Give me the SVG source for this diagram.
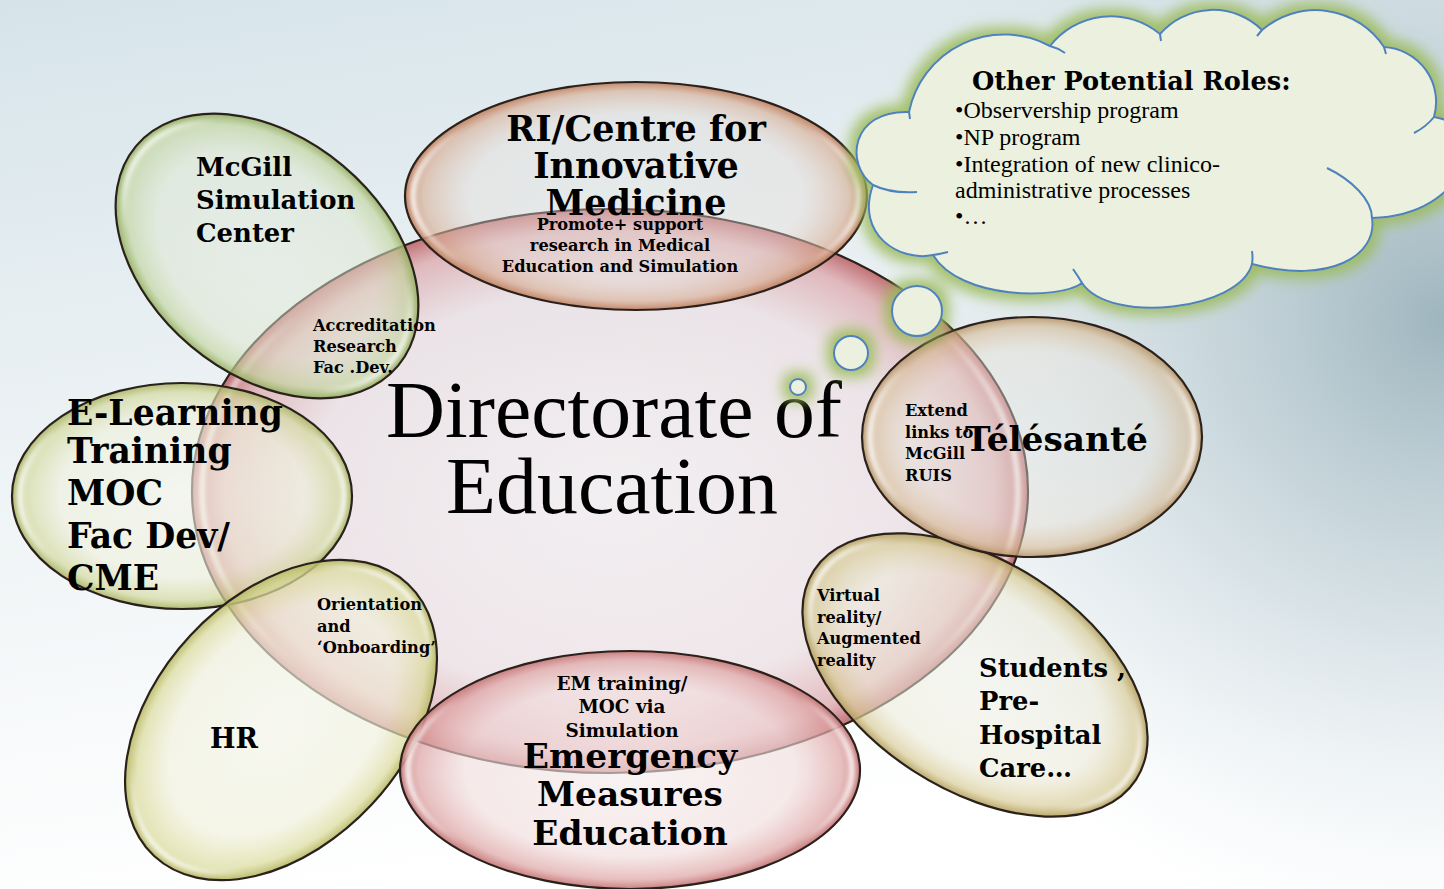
<svg xmlns="http://www.w3.org/2000/svg" width="1444" height="889" viewBox="0 0 1444 889">
<style>
.bub{stroke:#2a211c;stroke-width:2.2}
.shine{fill:none;stroke:url(#shine);stroke-width:5;filter:url(#soft)}
.lbl{font-family:"DejaVu Serif",Georgia,serif;font-weight:bold;fill:#000}
.sm{font-size:16.2px}
.cen{font-family:"Liberation Serif","Times New Roman",serif;fill:#000}
.cl{font-family:"Liberation Serif","Times New Roman",serif;fill:#000;font-size:24px}
.cloud{fill:#ebf1de;stroke:#4f81bd;stroke-width:2}
.tail{fill:none;stroke:#4f81bd;stroke-width:2}
</style>
<defs>
<linearGradient id="bg" x1="0" y1="0" x2="0.25" y2="1">
<stop offset="0" stop-color="#d6e4ea"/>
<stop offset="0.5" stop-color="#eef3f5"/>
<stop offset="1" stop-color="#ffffff"/>
</linearGradient>
<radialGradient id="bg2" cx="1444" cy="320" r="620" gradientUnits="userSpaceOnUse">
<stop offset="0" stop-color="#9ab2bb" stop-opacity="0.95"/>
<stop offset="0.45" stop-color="#b9cbd2" stop-opacity="0.6"/>
<stop offset="1" stop-color="#d7e4ea" stop-opacity="0"/>
</radialGradient>
<linearGradient id="shine" x1="0" y1="0" x2="1" y2="0">
<stop offset="0" stop-color="#fff" stop-opacity="0.9"/>
<stop offset="0.12" stop-color="#fff" stop-opacity="0"/>
<stop offset="0.88" stop-color="#fff" stop-opacity="0"/>
<stop offset="1" stop-color="#fff" stop-opacity="0.9"/>
</linearGradient>
<filter id="soft" x="-10%" y="-10%" width="120%" height="120%"><feGaussianBlur stdDeviation="2"/></filter>
<filter id="glow" x="-20%" y="-20%" width="140%" height="140%">
<feMorphology in="SourceAlpha" operator="dilate" radius="6" result="d"/>
<feGaussianBlur in="d" stdDeviation="7" result="b"/>
<feFlood flood-color="#9bbb59" flood-opacity="0.9"/>
<feComposite in2="b" operator="in" result="g"/>
<feMerge><feMergeNode in="g"/><feMergeNode in="SourceGraphic"/></feMerge>
</filter>
<radialGradient id="gCen">
<stop offset="0" stop-color="#f2ebee" stop-opacity="0.6"/>
<stop offset="0.72" stop-color="#eadbe0" stop-opacity="0.65"/>
<stop offset="0.92" stop-color="#dca6aa" stop-opacity="0.75"/>
<stop offset="1" stop-color="#bd666a" stop-opacity="0.92"/>
</radialGradient>
<radialGradient id="gRI">
<stop offset="0" stop-color="#e6e4e0" stop-opacity="0.35"/>
<stop offset="0.72" stop-color="#e6dcd6" stop-opacity="0.4"/>
<stop offset="0.92" stop-color="#d8ae94" stop-opacity="0.62"/>
<stop offset="1" stop-color="#bf7e5c" stop-opacity="0.92"/>
</radialGradient>
<radialGradient id="gMc">
<stop offset="0" stop-color="#e6ecdc" stop-opacity="0.45"/>
<stop offset="0.72" stop-color="#dfe8cf" stop-opacity="0.5"/>
<stop offset="0.92" stop-color="#c2d59d" stop-opacity="0.65"/>
<stop offset="1" stop-color="#93ad5e" stop-opacity="0.9"/>
</radialGradient>
<radialGradient id="gEl">
<stop offset="0" stop-color="#f5f6ea" stop-opacity="0.6"/>
<stop offset="0.72" stop-color="#eef0da" stop-opacity="0.6"/>
<stop offset="0.92" stop-color="#d3d99e" stop-opacity="0.7"/>
<stop offset="1" stop-color="#a9b463" stop-opacity="0.9"/>
</radialGradient>
<radialGradient id="gHR">
<stop offset="0" stop-color="#f6f6ea" stop-opacity="0.65"/>
<stop offset="0.72" stop-color="#f1f1dc" stop-opacity="0.65"/>
<stop offset="0.92" stop-color="#dcdc9e" stop-opacity="0.72"/>
<stop offset="1" stop-color="#b6b862" stop-opacity="0.92"/>
</radialGradient>
<radialGradient id="gTe">
<stop offset="0" stop-color="#e6e8e4" stop-opacity="0.4"/>
<stop offset="0.72" stop-color="#e8e2d8" stop-opacity="0.45"/>
<stop offset="0.92" stop-color="#d8bf9c" stop-opacity="0.65"/>
<stop offset="1" stop-color="#b8956a" stop-opacity="0.9"/>
</radialGradient>
<radialGradient id="gSt">
<stop offset="0" stop-color="#eff0e6" stop-opacity="0.5"/>
<stop offset="0.72" stop-color="#ecead8" stop-opacity="0.55"/>
<stop offset="0.92" stop-color="#d8cc98" stop-opacity="0.7"/>
<stop offset="1" stop-color="#b4a05c" stop-opacity="0.9"/>
</radialGradient>
<radialGradient id="gEM">
<stop offset="0" stop-color="#f6ecec" stop-opacity="0.6"/>
<stop offset="0.72" stop-color="#f1dcdc" stop-opacity="0.62"/>
<stop offset="0.92" stop-color="#dfa6a6" stop-opacity="0.72"/>
<stop offset="1" stop-color="#c47474" stop-opacity="0.92"/>
</radialGradient>
</defs>

<rect x="0" y="0" width="1444" height="889" fill="url(#bg)"/>
<rect x="0" y="0" width="1444" height="889" fill="url(#bg2)"/>

<g id="directorate">
<ellipse class="bub" cx="610" cy="491" rx="418" ry="282" fill="url(#gCen)"/>
<ellipse class="shine" cx="610" cy="491" rx="408" ry="272"/>
<text class="cen" font-size="81" x="614" y="437" text-anchor="middle" textLength="456" lengthAdjust="spacingAndGlyphs">Directorate of</text>
<text class="cen" font-size="81" x="612" y="513" text-anchor="middle" textLength="332" lengthAdjust="spacingAndGlyphs">Education</text>
</g>

<g id="ri-centre">
<ellipse class="bub" cx="636" cy="196" rx="231" ry="114" fill="url(#gRI)"/>
<ellipse class="shine" cx="636" cy="196" rx="223" ry="106"/>
<g class="lbl" font-size="35" text-anchor="middle">
<text x="636" y="141">RI/Centre for</text>
<text x="636" y="178">Innovative</text>
<text x="636" y="215">Medicine</text>
</g>
<g class="lbl" font-size="16.2" text-anchor="middle">
<text x="620" y="230">Promote+ support</text>
<text x="620" y="251">research in Medical</text>
<text x="620" y="272">Education and Simulation</text>
</g>
</g>

<g id="mcgill-sim">
<ellipse class="bub" cx="267" cy="256" rx="171" ry="118" transform="rotate(40 267 256)" fill="url(#gMc)"/>
<ellipse class="shine" cx="267" cy="256" rx="163" ry="110" transform="rotate(40 267 256)"/>
<g class="lbl" font-size="25.9">
<text x="196" y="176">McGill</text>
<text x="196" y="209">Simulation</text>
<text x="196" y="242">Center</text>
</g>
<g class="lbl sm">
<text x="313" y="331">Accreditation</text>
<text x="313" y="352">Research</text>
<text x="313" y="373">Fac .Dev.</text>
</g>
</g>

<g id="e-learning">
<ellipse class="bub" cx="182" cy="496" rx="170" ry="113" fill="url(#gEl)"/>
<ellipse class="shine" cx="182" cy="496" rx="162" ry="105"/>
<g class="lbl" font-size="34.6">
<text x="67" y="425">E-Learning</text>
<text x="67" y="463">Training</text>
<text x="67" y="505">MOC</text>
<text x="67" y="548">Fac Dev/</text>
<text x="67" y="590">CME</text>
</g>
</g>

<g id="hr">
<ellipse class="bub" cx="281" cy="720" rx="186" ry="124" transform="rotate(-47 281 720)" fill="url(#gHR)"/>
<ellipse class="shine" cx="281" cy="720" rx="178" ry="116" transform="rotate(-47 281 720)"/>
<text class="lbl" font-size="27" x="210" y="748">HR</text>
<g class="lbl sm">
<text x="317" y="610">Orientation</text>
<text x="317" y="632">and</text>
<text x="317" y="653">‘Onboarding’</text>
</g>
</g>

<g id="emergency-measures">
<ellipse class="bub" cx="630" cy="770" rx="230" ry="119" fill="url(#gEM)"/>
<ellipse class="shine" cx="630" cy="770" rx="222" ry="111"/>
<g class="lbl" font-size="18.4" text-anchor="middle">
<text x="622" y="690">EM training/</text>
<text x="622" y="713">MOC via</text>
<text x="622" y="737">Simulation</text>
</g>
<g class="lbl" font-size="34.4" text-anchor="middle">
<text x="630" y="768">Emergency</text>
<text x="630" y="806">Measures</text>
<text x="630" y="845">Education</text>
</g>
</g>

<g id="students">
<ellipse class="bub" cx="975" cy="675" rx="192" ry="114" transform="rotate(33 975 675)" fill="url(#gSt)"/>
<ellipse class="shine" cx="975" cy="675" rx="184" ry="106" transform="rotate(33 975 675)"/>
<g class="lbl" font-size="25.8">
<text x="979" y="677">Students ,</text>
<text x="979" y="710">Pre-</text>
<text x="979" y="744">Hospital</text>
<text x="979" y="777">Care…</text>
</g>
<g class="lbl sm">
<text x="817" y="601">Virtual</text>
<text x="817" y="623">reality/</text>
<text x="817" y="644">Augmented</text>
<text x="817" y="666">reality</text>
</g>
</g>

<g id="telesante">
<ellipse class="bub" cx="1032" cy="437" rx="170" ry="120" fill="url(#gTe)"/>
<ellipse class="shine" cx="1032" cy="437" rx="162" ry="112"/>
<text class="lbl" font-size="34.4" x="965" y="451">Télésanté</text>
<g class="lbl sm">
<text x="905" y="416">Extend</text>
<text x="905" y="438">links to</text>
<text x="905" y="459">McGill</text>
<text x="905" y="481">RUIS</text>
</g>
</g>

<g id="other-roles">
<g filter="url(#glow)">
<circle class="cloud" cx="798" cy="387" r="8"/>
<circle class="cloud" cx="851" cy="353" r="17"/>
<circle class="cloud" cx="917" cy="311" r="25"/>
<path class="cloud" d="M909,112 A97,97 0 0 1 1050,46 A77,77 0 0 1 1160,34 A70,70 0 0 1 1262,30 A82,82 0 0 1 1384,47 A55,55 0 0 1 1434,117 C1490,125 1470,215 1372,218 C1378,255 1330,285 1252,264 C1240,310 1110,325 1082,283 C1060,300 960,300 933,255 C900,262 855,235 873,185 C845,165 850,110 909,112 Z"/>
</g>
<path class="tail" d="M873,185 C885,191 900,193 917,192 M909,112 L910,119 M1050,46 Q1058,48 1065,53 M1160,34 L1161,41 M1262,30 L1257,36 M1384,47 L1386,54 M1434,117 Q1426,127 1414,133 M1372,218 C1372,200 1352,180 1327,168 M1252,264 Q1253,258 1252,251 M1082,283 Q1078,276 1073,269 M933,255 Q940,254 948,252"/>
<text class="lbl" font-size="25.6" x="972" y="90">Other Potential Roles:</text>
<text class="cl" x="955" y="118">•Observership program</text>
<text class="cl" x="955" y="145">•NP program</text>
<text class="cl" x="955" y="172">•Integration of new clinico-</text>
<text class="cl" x="955" y="198">administrative processes</text>
<text class="cl" x="955" y="224">•…</text>
</g>

<g id="connectors"></g>
</svg>
